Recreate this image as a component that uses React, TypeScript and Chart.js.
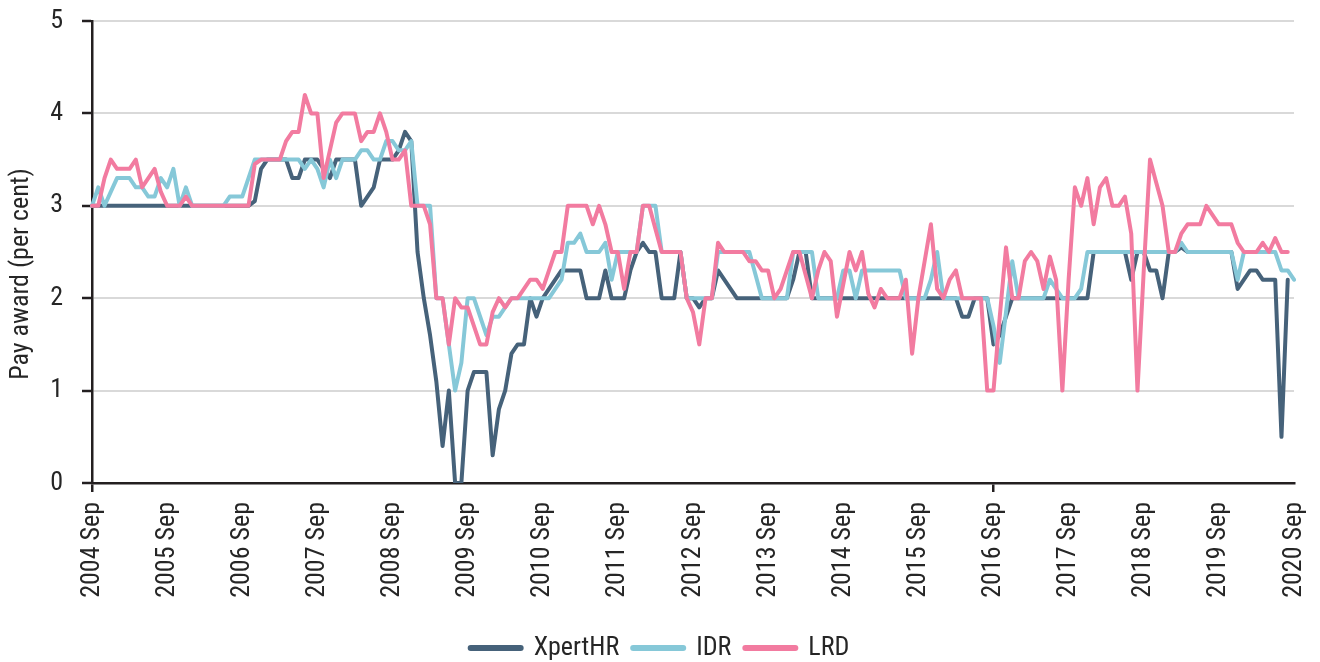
import React, { useEffect, useRef } from 'react';
import { Chart, registerables } from 'chart.js';

Chart.register(...registerables);

const MONTH_NAMES = ['Jan', 'Feb', 'Mar', 'Apr', 'May', 'Jun', 'Jul', 'Aug', 'Sep', 'Oct', 'Nov', 'Dec'];
const START_YEAR = 2004;
const START_MONTH = 8; // Sep
const MONTH_COUNT = 193; // 2004 Sep .. 2020 Sep

const categories: string[] = [];
for (let i = 0; i < MONTH_COUNT; i++) {
  const m = START_MONTH + i;
  categories.push(`${START_YEAR + Math.floor(m / 12)} ${MONTH_NAMES[m % 12]}`);
}

const xpertHR: (number | null)[] = [
  3, 3, 3, 3, 3, 3, 3, 3, 3, 3,
  3, 3, 3, 3, 3, 3, 3, 3, 3, 3,
  3, 3, 3, 3, 3, 3, 3.05, 3.4, 3.5, 3.5,
  3.5, 3.5, 3.3, 3.3, 3.5, 3.5, 3.5, 3.4, 3.3, 3.5,
  3.5, 3.5, 3.5, 3.0, 3.1, 3.2, 3.5, 3.5, 3.5, 3.6,
  3.8, 3.7, 2.5, 2.0, 1.6, 1.1, 0.4, 1.0, 0, 0,
  1.0, 1.2, 1.2, 1.2, 0.3, 0.8, 1.0, 1.4, 1.5, 1.5,
  2.0, 1.8, 2.0, 2.1, 2.2, 2.3, 2.3, 2.3, 2.3, 2.0,
  2.0, 2.0, 2.3, 2.0, 2.0, 2.0, 2.3, 2.5, 2.6, 2.5,
  2.5, 2.0, 2.0, 2.0, 2.5, 2.0, 2.0, 1.9, 2.0, 2.0,
  2.3, 2.2, 2.1, 2.0, 2.0, 2.0, 2.0, 2.0, 2.0, 2.0,
  2.0, 2.0, 2.2, 2.5, 2.5, 2.0, 2.0, 2.0, 2.0, 2.0,
  2.0, 2.0, 2.0, 2.0, 2.0, 2.0, 2.0, 2.0, 2.0, 2.0,
  2.0, 2.0, 2.0, 2.0, 2.0, 2.0, 2.0, 2.0, 2.0, 1.8,
  1.8, 2.0, 2.0, 2.0, 1.5, 1.6, 1.8, 2.0, 2.0, 2.0,
  2.0, 2.0, 2.0, 2.0, 2.0, 2.0, 2.0, 2.0, 2.0, 2.0,
  2.5, 2.5, 2.5, 2.5, 2.5, 2.5, 2.2, 2.5, 2.5, 2.3,
  2.3, 2.0, 2.5, 2.5, 2.55, 2.5, 2.5, 2.5, 2.5, 2.5,
  2.5, 2.5, 2.5, 2.1, 2.2, 2.3, 2.3, 2.2, 2.2, 2.2,
  0.5, 2.2, null,
];

const idr: (number | null)[] = [
  3.0, 3.2, 3.0, 3.15, 3.3, 3.3, 3.3, 3.2, 3.2, 3.1,
  3.1, 3.3, 3.2, 3.4, 3.0, 3.2, 3.0, 3.0, 3.0, 3.0,
  3.0, 3.0, 3.1, 3.1, 3.1, 3.3, 3.5, 3.5, 3.5, 3.5,
  3.5, 3.5, 3.5, 3.5, 3.4, 3.5, 3.4, 3.2, 3.5, 3.3,
  3.5, 3.5, 3.5, 3.6, 3.6, 3.5, 3.5, 3.7, 3.7, 3.6,
  3.6, 3.7, 3.0, 3.0, 3.0, 2.0, 2.0, 1.5, 1.0, 1.3,
  2.0, 2.0, 1.8, 1.6, 1.8, 1.8, 1.9, 2.0, 2.0, 2.0,
  2.0, 2.0, 2.0, 2.0, 2.1, 2.2, 2.6, 2.6, 2.7, 2.5,
  2.5, 2.5, 2.6, 2.2, 2.5, 2.5, 2.5, 2.5, 3.0, 3.0,
  3.0, 2.5, 2.5, 2.5, 2.5, 2.0, 2.0, 2.0, 2.0, 2.0,
  2.5, 2.5, 2.5, 2.5, 2.5, 2.5, 2.25, 2.0, 2.0, 2.0,
  2.0, 2.0, 2.5, 2.5, 2.5, 2.5, 2.0, 2.0, 2.0, 2.0,
  2.3, 2.3, 2.0, 2.3, 2.3, 2.3, 2.3, 2.3, 2.3, 2.3,
  2.0, 2.0, 2.0, 2.0, 2.2, 2.5, 2.0, 2.0, 2.0, 2.0,
  2.0, 2.0, 2.0, 2.0, 1.7, 1.3, 1.85, 2.4, 2.0, 2.0,
  2.0, 2.0, 2.0, 2.2, 2.1, 2.0, 2.0, 2.0, 2.1, 2.5,
  2.5, 2.5, 2.5, 2.5, 2.5, 2.5, 2.5, 2.5, 2.5, 2.5,
  2.5, 2.5, 2.5, 2.5, 2.6, 2.5, 2.5, 2.5, 2.5, 2.5,
  2.5, 2.5, 2.5, 2.2, 2.5, 2.5, 2.5, 2.5, 2.5, 2.5,
  2.3, 2.3, 2.2,
];

const lrd: (number | null)[] = [
  3.0, 3.0, 3.3, 3.5, 3.4, 3.4, 3.4, 3.5, 3.2, 3.3,
  3.4, 3.15, 3.0, 3.0, 3.0, 3.1, 3.0, 3.0, 3.0, 3.0,
  3.0, 3.0, 3.0, 3.0, 3.0, 3.0, 3.45, 3.5, 3.5, 3.5,
  3.5, 3.7, 3.8, 3.8, 4.2, 4.0, 4.0, 3.3, 3.6, 3.9,
  4.0, 4.0, 4.0, 3.7, 3.8, 3.8, 4.0, 3.8, 3.5, 3.5,
  3.6, 3.0, 3.0, 3.0, 2.8, 2.0, 2.0, 1.5, 2.0, 1.9,
  1.9, 1.7, 1.5, 1.5, 1.85, 2.0, 1.9, 2.0, 2.0, 2.1,
  2.2, 2.2, 2.1, 2.3, 2.5, 2.5, 3.0, 3.0, 3.0, 3.0,
  2.8, 3.0, 2.8, 2.5, 2.5, 2.1, 2.5, 2.5, 3.0, 3.0,
  2.75, 2.5, 2.5, 2.5, 2.5, 2.0, 1.85, 1.5, 2.0, 2.0,
  2.6, 2.5, 2.5, 2.5, 2.5, 2.4, 2.4, 2.3, 2.3, 2.0,
  2.1, 2.3, 2.5, 2.5, 2.25, 2.0, 2.3, 2.5, 2.4, 1.8,
  2.15, 2.5, 2.3, 2.5, 2.05, 1.9, 2.1, 2.0, 2.0, 2.0,
  2.2, 1.4, 2.0, 2.4, 2.8, 2.1, 2.0, 2.2, 2.3, 2.0,
  2.0, 2.0, 2.0, 1.0, 1.0, 1.8, 2.55, 2.0, 2.0, 2.4,
  2.5, 2.4, 2.1, 2.45, 2.2, 1.0, 2.2, 3.2, 3.0, 3.3,
  2.8, 3.2, 3.3, 3.0, 3.0, 3.1, 2.7, 1.0, 2.3, 3.5,
  3.25, 3.0, 2.5, 2.5, 2.7, 2.8, 2.8, 2.8, 3.0, 2.9,
  2.8, 2.8, 2.8, 2.6, 2.5, 2.5, 2.5, 2.6, 2.5, 2.65,
  2.5, 2.5, null,
];

const seriesNames = ['XpertHR', 'IDR', 'LRD'];
const seriesColors = ['#46627a', '#86c8d8', '#f27ba0'];
const yTitle = 'Pay award (per cent)';

const TEXT = '#262626';
const AXIS = '#231f20';
const GRID = '#d9d9d9';
const FONT_FAMILY = "'Roboto Condensed', 'Liberation Sans Narrow', 'Arial Narrow', 'DejaVu Sans Condensed', Roboto, sans-serif";

const yTitlePlugin = {
  id: 'yTitleText',
  afterDraw(chart: any) {
    const { ctx } = chart;
    ctx.save();
    ctx.translate(21, 274);
    ctx.rotate(-Math.PI / 2);
    ctx.fillStyle = TEXT;
    ctx.font = `26px ${FONT_FAMILY}`;
    ctx.textAlign = 'center';
    ctx.textBaseline = 'middle';
    ctx.fillText(yTitle, 0, 0);
    ctx.restore();
  },
};

export default function App() {
  const canvasRef = useRef<HTMLCanvasElement | null>(null);

  useEffect(() => {
    if (!canvasRef.current) return;
    Chart.defaults.font.family = FONT_FAMILY;
    const seriesData = [xpertHR, idr, lrd];
    const chart = new Chart(canvasRef.current, {
      type: 'line',
      data: {
        labels: categories,
        datasets: seriesNames.map((name, k) => ({
          label: name,
          data: seriesData[k],
          borderColor: seriesColors[k],
          backgroundColor: seriesColors[k],
          borderWidth: 4,
          borderCapStyle: 'round',
          borderJoinStyle: 'round',
          pointRadius: 0,
          pointHoverRadius: 0,
          tension: 0,
          fill: false,
          order: 3 - k,
        })),
      },
      plugins: [yTitlePlugin],
      options: {
        responsive: false,
        animation: false,
        events: [],
        layout: { padding: { top: 21, right: 0, left: 0, bottom: 0 } },
        plugins: {
          tooltip: { enabled: false },
          legend: {
            position: 'bottom',
            labels: {
              usePointStyle: true,
              pointStyle: 'line',
              pointStyleWidth: 50,
              padding: 14,
              color: TEXT,
              font: { size: 26 },
              sort: (a: any, b: any) => a.datasetIndex - b.datasetIndex,
              generateLabels: (c: any) =>
                (Chart.defaults.plugins.legend.labels as any)
                  .generateLabels(c)
                  .map((l: any) => ({ ...l, lineWidth: 6, lineCap: 'round' })),
            },
          },
        },
        scales: {
          x: {
            type: 'category',
            offset: false,
            grid: {
              display: true,
              drawOnChartArea: false,
              drawTicks: true,
              tickLength: 9,
              color: AXIS,
              lineWidth: 2.5,
              tickWidth: 2.5,
              tickColor: (ctx: any) => (ctx.index % 12 === 0 ? AXIS : 'rgba(0,0,0,0)'),
            },
            border: { display: true, color: AXIS, width: 2.5 },
            ticks: {
              autoSkip: false,
              maxRotation: 90,
              minRotation: 90,
              padding: 10,
              color: TEXT,
              font: { size: 26 },
              callback: (_v: any, i: number) => (i % 12 === 0 ? categories[i] : undefined),
            },
            afterFit: (s: any) => {
              s.height = 138;
              s.paddingLeft = 0;
              s.paddingRight = 26;
            },
          },
          y: {
            min: 0,
            max: 5,
            ticks: { stepSize: 1, padding: 19, color: TEXT, font: { size: 26 } },
            grid: {
              color: GRID,
              lineWidth: 2,
              tickColor: AXIS,
              tickLength: 10,
              tickWidth: 2.5,
            },
            border: { display: true, color: AXIS, width: 2.5 },
            title: { display: false },
            afterFit: (s: any) => {
              s.width = 92;
              s.paddingTop = 0;
              s.paddingBottom = 0;
            },
          },
        },
      } as any,
    });
    return () => chart.destroy();
  }, []);

  return (
    <div
      style={{
        position: 'fixed',
        left: 0,
        top: 0,
        width: 1320,
        height: 662,
        overflow: 'hidden',
        background: '#ffffff',
      }}
    >
      <canvas ref={canvasRef} width={1320} height={671} style={{ display: 'block', width: 1320, height: 671 }} />
    </div>
  );
}
